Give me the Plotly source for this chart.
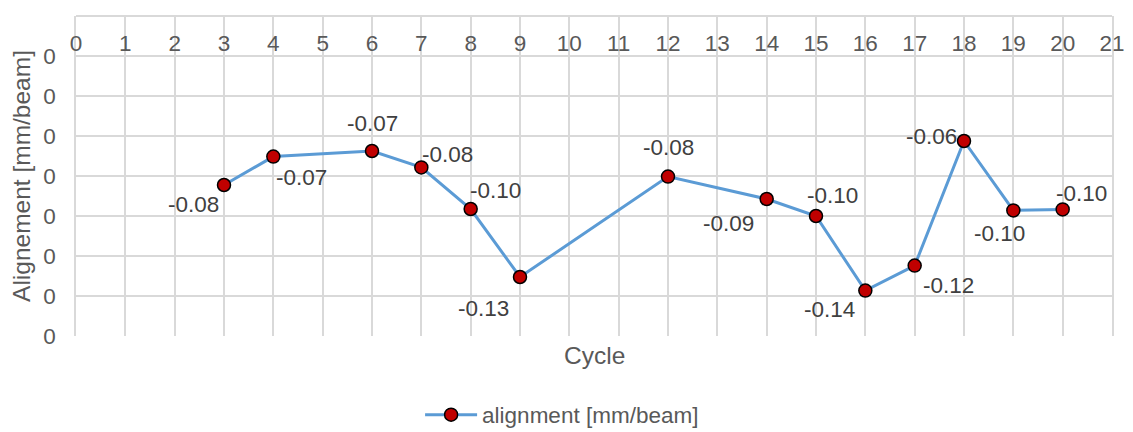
import plotly.graph_objects as go

cycles = [3, 4, 6, 7, 8, 9, 12, 14, 15, 16, 17, 18, 19, 20]
alignment = [-0.0845, -0.0703, -0.0675, -0.0757, -0.0965, -0.1305, -0.0803,
             -0.0915, -0.1000, -0.1373, -0.1248, -0.0625, -0.0972, -0.0967]
x_ticks = list(range(0, 22))
y_ticks = [0, -0.02, -0.04, -0.06, -0.08, -0.10, -0.12, -0.14, -0.16]
y_ticktext = ["0"] * len(y_ticks)
series_name = "alignment [mm/beam]"

# label offsets in pixels (style)
label_dx = [-31, 28, 0, 26, 25, -37, 0, -38, 16, -36, 34, -33, -14, 19]
label_dy = [18, 20, -29, -14, -20, 30, -30, 23, -22, 18, 19, -6, 22, -17]

GRAY = "#595959"
GRID = "#d9d9d9"
FONT = "Liberation Sans, Arial, sans-serif"

fig = go.Figure()
fig.add_trace(go.Scatter(
    x=cycles, y=alignment, name=series_name, mode="lines+markers",
    line=dict(color="#5b9bd5", width=3),
    marker=dict(color="#c00000", size=13, line=dict(color="black", width=1.5)),
))

for xv, yv, dx, dy in zip(cycles, alignment, label_dx, label_dy):
    fig.add_annotation(x=xv, y=yv, text=f"{yv:.2f}", showarrow=False,
                       xanchor="center", yanchor="middle",
                       xshift=dx, yshift=-dy - 1,
                       font=dict(size=22.5, color="#404040", family=FONT))

fig.add_annotation(text="Cycle", xref="paper", yref="paper", x=0.5, y=0,
                   xanchor="center", yanchor="top", yshift=-4, showarrow=False,
                   font=dict(size=24.5, color=GRAY, family=FONT))

# the page body adds an 8px margin, so the figure is 8px smaller on each side
fig.update_layout(
    width=1125, height=424,
    margin=dict(l=68, r=21, t=8, b=96, autoexpand=False),
    paper_bgcolor="white", plot_bgcolor="white",
    font=dict(family=FONT, color=GRAY, size=22.5),
    showlegend=True,
    legend=dict(orientation="h", x=0.4692, xanchor="center", y=-0.247, yanchor="middle",
                font=dict(size=22.5, color=GRAY, family=FONT), itemwidth=52),
    xaxis=dict(range=[0, 21], anchor="free", position=1, side="bottom",
               tickvals=x_ticks, automargin=False,
               showgrid=True, gridcolor=GRID, gridwidth=1.5,
               showline=True, linecolor=GRID, linewidth=1.5, mirror=True,
               zeroline=False, ticks="", ticklabelstandoff=7,
               tickfont=dict(size=22.5, color=GRAY)),
    yaxis=dict(range=[-0.16, 0], tickvals=y_ticks, ticktext=y_ticktext,
               automargin=False,
               showgrid=True, gridcolor=GRID, gridwidth=1.5,
               showline=True, linecolor=GRID, linewidth=1.5, mirror=True,
               zeroline=False, ticks="", ticklabelstandoff=14,
               tickfont=dict(size=22.5, color=GRAY),
               title=dict(text="Alignement [mm/beam]", standoff=10,
                          font=dict(size=24.5, color=GRAY, family=FONT))),
)

fig.write_html("out.html")
